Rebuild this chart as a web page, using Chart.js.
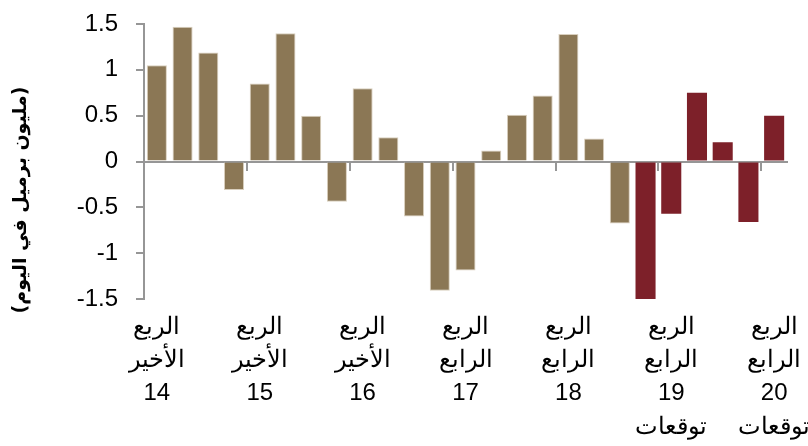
<!DOCTYPE html>
<html>
<head>
<meta charset="utf-8">
<script src="https://cdn.jsdelivr.net/npm/chart.js@4/dist/chart.umd.min.js"></script>
<style>
  html, body { margin: 0; padding: 0; background: #fff; }
  #wrap { width: 808px; height: 446px; }
</style>
</head>
<body>
<div id="wrap"><canvas id="chart"></canvas></div>
<script>
// quarterly change, million barrels per day
const tickLabels = [
  ['الربع', 'الأخير', '14'], '', '', '',
  ['الربع', 'الأخير', '15'], '', '', '',
  ['الربع', 'الأخير', '16'], '', '', '',
  ['الربع', 'الرابع', '17'], '', '', '',
  ['الربع', 'الرابع', '18'], '', '', '',
  ['الربع', 'الرابع', '19', 'توقعات'], '', '', '',
  ['الربع', 'الرابع', '20', 'توقعات']
];

const actual = [
  1.05, 1.47, 1.19, -0.31,
  0.85, 1.40, 0.50, -0.44,
  0.80, 0.265, -0.60, -1.41,
  -1.19, 0.12, 0.51, 0.72,
  1.39, 0.25, -0.675, null,
  null, null, null, null,
  null
];

const forecast = [
  null, null, null, null,
  null, null, null, null,
  null, null, null, null,
  null, null, null, null,
  null, null, null, -1.52,
  -0.57, 0.75, 0.21, -0.66,
  0.50
];

const yTicks = [-1.5, -1, -0.5, 0, 0.5, 1, 1.5];
const yTitle = '(مليون برميل في اليوم)';

const axisGray = '#969696';
const tan = '#8B7755';
const darkRed = '#7D2029';

const yTitlePlugin = {
  id: 'yTitle',
  afterDraw(chart) {
    const ctx = chart.ctx;
    ctx.save();
    ctx.translate(21, 200);
    ctx.rotate(-Math.PI / 2);
    ctx.direction = 'rtl';
    ctx.textAlign = 'center';
    ctx.textBaseline = 'middle';
    ctx.font = 'bold 19px "DejaVu Sans", sans-serif';
    ctx.fillStyle = '#000';
    ctx.fillText(yTitle, 0, 0);
    ctx.restore();
  }
};

const ctx = document.getElementById('chart');

new Chart(ctx, {
  type: 'bar',
  data: {
    labels: tickLabels,
    datasets: [
      {
        data: actual,
        backgroundColor: tan,
        borderColor: '#D9CFBE',
        borderWidth: 1,
        grouped: false,
        barPercentage: 0.78,
        categoryPercentage: 1,
        xAxisID: 'x',
        yAxisID: 'y',
      },
      {
        data: forecast,
        backgroundColor: darkRed,
        borderWidth: 0,
        grouped: false,
        barPercentage: 0.78,
        categoryPercentage: 1,
        xAxisID: 'x',
        yAxisID: 'y',
      },
    ],
  },
  options: {
    responsive: true,
    maintainAspectRatio: false,
    animation: false,
    layout: { padding: { top: 24, right: 21, left: 0, bottom: 0 } },
    plugins: {
      legend: { display: false },
      tooltip: { enabled: false },
    },
    scales: {
      x: {
        type: 'category',
        position: { y: 0 },
        offset: true,
        ticks: { display: false, autoSkip: false },
        grid: {
          offset: true,
          drawOnChartArea: false,
          drawTicks: true,
          tickLength: 8,
          lineWidth: 2,
          color: (c) => (c.index % 4 === 0 ? axisGray : 'rgba(0,0,0,0)'),
        },
        border: { display: true, color: axisGray, width: 2 },
      },
      x2: {
        type: 'category',
        axis: 'x',
        position: 'bottom',
        offset: true,
        labels: tickLabels,
        grid: { display: false, drawTicks: false },
        border: { display: false },
        ticks: {
          autoSkip: false,
          maxRotation: 0,
          padding: 12,
          color: '#000',
          font: { family: 'Liberation Sans, Arial, sans-serif', size: 24, lineHeight: 1.38 },
        },
        afterFit: (scale) => {
          scale.height = 147;
          scale.paddingLeft = 0;
          scale.paddingRight = 0;
        },
      },
      y: {
        min: -1.5,
        max: 1.5,
        afterBuildTicks: (scale) => { scale.ticks = yTicks.map((v) => ({ value: v })); },
        ticks: {
          padding: 18,
          color: '#000',
          font: { family: 'Liberation Sans, Arial, sans-serif', size: 24 },
          callback: (v) => String(v),
        },
        grid: {
          drawOnChartArea: false,
          drawTicks: true,
          tickLength: 8,
          lineWidth: 2,
          color: axisGray,
        },
        border: { display: true, color: axisGray, width: 2 },
        afterFit: (scale) => {
          scale.width = 144;
          scale.paddingTop = 0;
          scale.paddingBottom = 0;
        },
      },
    },
  },
  plugins: [yTitlePlugin],
});
</script>
</body>
</html>
